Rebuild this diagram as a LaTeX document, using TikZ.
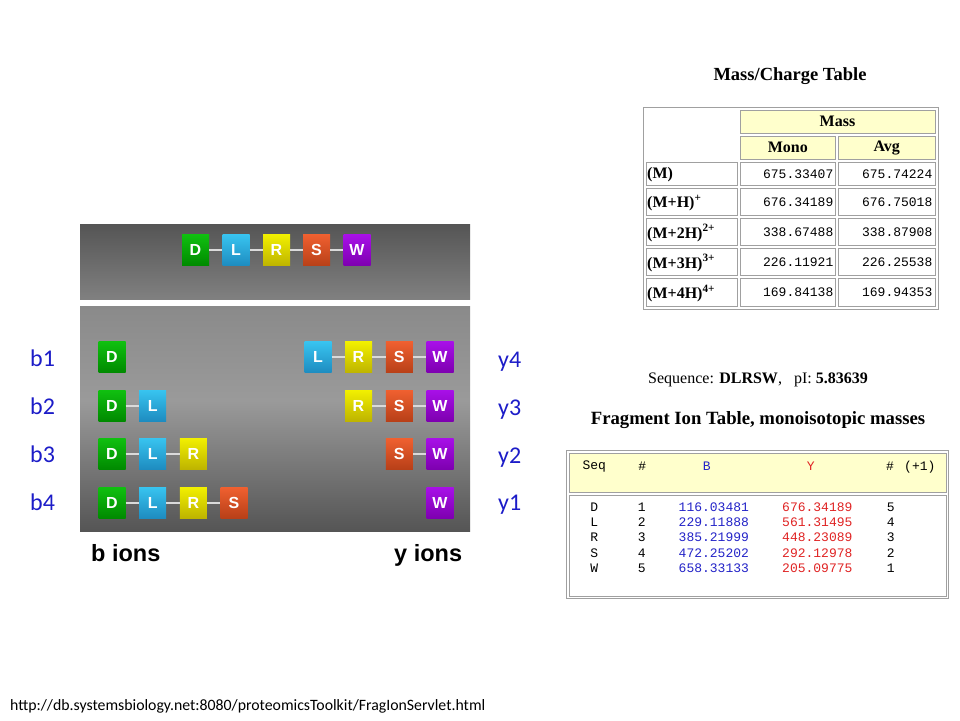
\documentclass[tikz,border=0pt]{standalone}
\usepackage{fontspec}
\setmainfont{Liberation Serif}
\newfontfamily\calib{Carlito}
\newfontfamily\arl{Liberation Sans}
\newfontfamily\monofnt{Liberation Mono}
\definecolor{tpt}{HTML}{555555}
\definecolor{tpb}{HTML}{808080}
\definecolor{lpt}{HTML}{8A8A8A}
\definecolor{lpm}{HTML}{9A9A9A}
\definecolor{lpb}{HTML}{555555}
\definecolor{dG1}{HTML}{10C010}
\definecolor{dG2}{HTML}{008A00}
\definecolor{lB1}{HTML}{38C4F0}
\definecolor{lB2}{HTML}{1E8CC0}
\definecolor{rY1}{HTML}{F2F000}
\definecolor{rY2}{HTML}{BEB400}
\definecolor{sO1}{HTML}{F06030}
\definecolor{sO2}{HTML}{B84018}
\definecolor{wP1}{HTML}{A810E8}
\definecolor{wP2}{HTML}{7E00B0}
\definecolor{linkgray}{HTML}{DADADA}
\definecolor{ionblue}{HTML}{1C1CC8}
\definecolor{cellgray}{HTML}{A0A0A0}
\definecolor{hdryellow}{HTML}{FFFFCC}
\definecolor{bblue}{HTML}{2424C8}
\definecolor{yred}{HTML}{E02424}
\pgfdeclareverticalshading{toppanel}{100bp}{color(0bp)=(tpb); color(25bp)=(tpb); color(75bp)=(tpt); color(100bp)=(tpt)}
\pgfdeclareverticalshading{lowpanel}{100bp}{color(0bp)=(lpb); color(25bp)=(lpb); color(54bp)=(lpm); color(75bp)=(lpt); color(100bp)=(lpt)}
\tikzset{
  aa/.style={minimum width=27pt,minimum height=31pt,inner sep=0pt,text=white,
    font=\arl\bfseries\fontsize{16}{16}\selectfont},
  aD/.style={aa,top color=dG1,bottom color=dG2},
  aL/.style={aa,top color=lB1,bottom color=lB2},
  aR/.style={aa,top color=rY1,bottom color=rY2},
  aS/.style={aa,top color=sO1,bottom color=sO2},
  aW/.style={aa,top color=wP1,bottom color=wP2},
  link/.style={draw=linkgray,line width=2pt},
  ionlab/.style={text=ionblue,font=\calib\fontsize{24}{24}\selectfont,anchor=base west,inner sep=0pt},
  ionname/.style={font=\arl\bfseries\fontsize{23.5}{24}\selectfont,anchor=base west,inner sep=0pt},
  cell/.style={draw=cellgray,line width=0.8pt,inner sep=0pt},
  hcell/.style={cell,fill=hdryellow,font=\bfseries\fontsize{16}{16}\selectfont},
  rlab/.style={font=\bfseries\fontsize{16}{16}\selectfont,anchor=west,inner sep=0pt},
  num/.style={font=\monofnt\fontsize{13}{13}\selectfont,inner sep=0pt},
  outerbox/.style={draw=cellgray,line width=1pt},
}
\begin{document}
\begin{tikzpicture}[x=1pt,y=-1pt]
\useasboundingbox[fill=white] (0,0) rectangle (960,720);
% panels
\shade[shading=toppanel] (80,224) rectangle (470,299);
\shade[shading=lowpanel] (80,306) rectangle (470,531);
% top chain
\node[aD] (tD) at (195.5,250) {D};
\node[aL] (tL) at (236,250) {L};
\node[aR] (tR) at (276.5,250) {R};
\node[aS] (tS) at (316.5,250) {S};
\node[aW] (tW) at (357,250) {W};
\draw[link] (tD) -- (tL); \draw[link] (tL) -- (tR); \draw[link] (tR) -- (tS); \draw[link] (tS) -- (tW);
% b ions
\node[aD] (b1D) at (112,357) {D};
\node[aD] (b2D) at (112,405.5) {D};
\node[aL] (b2L) at (152.7,405.5) {L};
\node[aD] (b3D) at (112,453.5) {D};
\node[aL] (b3L) at (152.7,453.5) {L};
\node[aR] (b3R) at (193.4,453.5) {R};
\node[aD] (b4D) at (112,502.5) {D};
\node[aL] (b4L) at (152.7,502.5) {L};
\node[aR] (b4R) at (193.4,502.5) {R};
\node[aS] (b4S) at (234,502.5) {S};
\draw[link] (b2D) -- (b2L);
\draw[link] (b3D) -- (b3L); \draw[link] (b3L) -- (b3R);
\draw[link] (b4D) -- (b4L); \draw[link] (b4L) -- (b4R); \draw[link] (b4R) -- (b4S);
% y ions
\node[aL] (y4L) at (318,357) {L};
\node[aR] (y4R) at (358.5,357) {R};
\node[aS] (y4S) at (399.3,357) {S};
\node[aW] (y4W) at (440,357) {W};
\node[aR] (y3R) at (358.5,405.5) {R};
\node[aS] (y3S) at (399.3,405.5) {S};
\node[aW] (y3W) at (440,405.5) {W};
\node[aS] (y2S) at (399.3,453.5) {S};
\node[aW] (y2W) at (440,453.5) {W};
\node[aW] (y1W) at (440,502.5) {W};
\draw[link] (y4L) -- (y4R); \draw[link] (y4R) -- (y4S); \draw[link] (y4S) -- (y4W);
\draw[link] (y3R) -- (y3S); \draw[link] (y3S) -- (y3W);
\draw[link] (y2S) -- (y2W);
% labels
\node[ionlab] (lb1) at (30,366) {b1};
\node[ionlab] (lb2) at (30,414) {b2};
\node[ionlab] (lb3) at (30,462) {b3};
\node[ionlab] (lb4) at (30,510.5) {b4};
\node[ionlab] (ly4) at (498,367) {y4};
\node[ionlab] (ly3) at (498,415) {y3};
\node[ionlab] (ly2) at (498,463) {y2};
\node[ionlab] (ly1) at (498,510.5) {y1};
\node[ionname] (bions) at (91,561.5) {b ions};
\node[ionname] (yions) at (394,561.5) {y ions};
% URL
\node[font=\calib\fontsize{15.8}{16}\selectfont,anchor=west,inner sep=0pt] (url) at (10,706) {http://db.systemsbiology.net:8080/proteomicsToolkit/FragIonServlet.html};
% Mass/Charge table
\node[font=\bfseries\fontsize{18.5}{19}\selectfont] (mctitle) at (790,76) {Mass/Charge Table};
\draw[outerbox] (643,107) rectangle (938,309);
\node[hcell,minimum width=195pt,minimum height=23.3pt] (hmass) at (837.5,121.7) {Mass};
\node[hcell,minimum width=95.7pt,minimum height=23.3pt] (hmono) at (787.8,147.7) {Mono};
\node[hcell,minimum width=96.7pt,minimum height=23.3pt] (havg) at (886.7,147.7) {Avg};
% rows
\foreach \yc/\h/\lab/\mv/\av [count=\i] in {
  174/23.4/{(M)}/675.33407/675.74224,
  202/27.4/{(M+H)\textsuperscript{+}}/676.34189/676.75018,
  232/27.4/{(M+2H)\textsuperscript{2+}}/338.67488/338.87908,
  262/27.4/{(M+3H)\textsuperscript{3+}}/226.11921/226.25538,
  292.5/28.4/{(M+4H)\textsuperscript{4+}}/169.84138/169.94353}{
  \node[cell,minimum width=91.3pt,minimum height=\h pt] (rl\i) at (691.7,\yc) {};
  \node[cell,minimum width=95.7pt,minimum height=\h pt] (rm\i) at (787.8,\yc) {};
  \node[cell,minimum width=96.7pt,minimum height=\h pt] (ra\i) at (886.7,\yc) {};
  \node[rlab] (rlt\i) at (647,\yc+1) {\lab};
  \node[num,anchor=east] (rmt\i) at (833.5,\yc) {\mv};
  \node[num,anchor=east] (rat\i) at (932.5,\yc) {\av};
}
% Sequence
\node[font=\fontsize{16}{16}\selectfont] (seq) at (758,380) {Sequence: \textbf{DLRSW},\ \ \ pI: \textbf{5.83639}};
\node[font=\bfseries\fontsize{18.7}{19}\selectfont] (fragtitle) at (758,420) {Fragment Ion Table, monoisotopic masses};
\draw[outerbox] (566,450) rectangle (948,598);
\node[cell,fill=hdryellow,minimum width=377pt,minimum height=39.4pt] (fhdr) at (757.5,473) {};
\node[cell,minimum width=377pt,minimum height=100.7pt] (fbody) at (757.5,545.65) {};
\node[num,anchor=west] (hseq) at (582.3,466.7) {Seq};
\node[num] (hnum) at (642.3,466.7) {\#};
\node[num,text=bblue] (hB) at (706.7,466.7) {B};
\node[num,text=yred] (hY) at (810.7,466.7) {Y};
\node[num] (hnum2) at (890,466.7) {\#};
\node[num,anchor=west] (hp1) at (904,466.7) {(+1)};
\foreach \yc/\s/\n/\bv/\yv/\m [count=\i] in {
  507.3/D/1/116.03481/676.34189/5,
  522.5/L/2/229.11888/561.31495/4,
  537.7/R/3/385.21999/448.23089/3,
  553/S/4/472.25202/292.12978/2,
  568/W/5/658.33133/205.09775/1}{
  \node[num] (fs\i) at (594.3,\yc) {\s};
  \node[num] (fn\i) at (641.7,\yc) {\n};
  \node[num,anchor=west,text=bblue] (fb\i) at (678.5,\yc) {\bv};
  \node[num,anchor=west,text=yred] (fy\i) at (782,\yc) {\yv};
  \node[num] (fm\i) at (890.7,\yc) {\m};
}
\end{tikzpicture}
\end{document}
